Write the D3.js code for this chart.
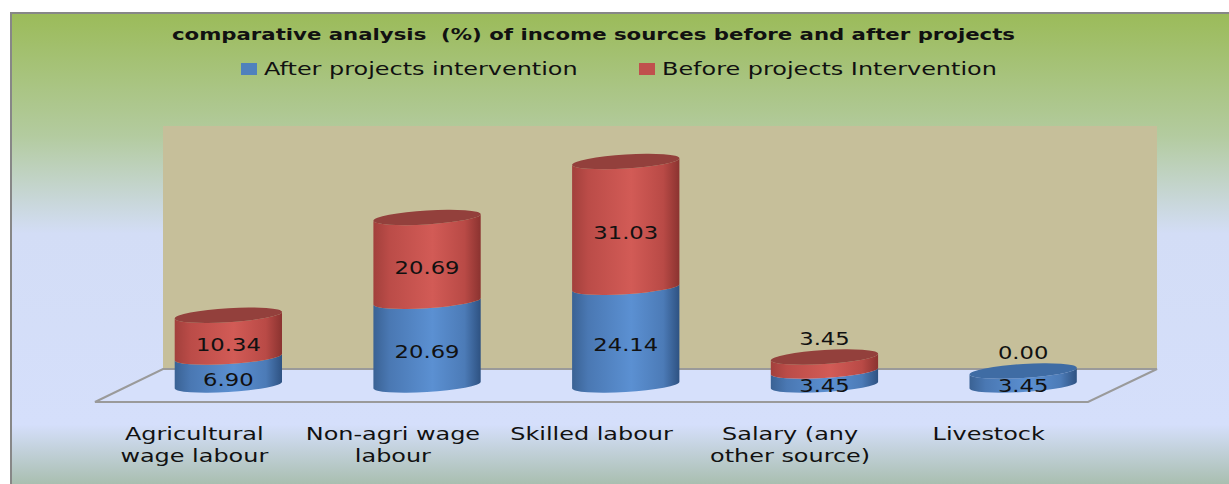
<!DOCTYPE html>
<html>
<head>
<meta charset="utf-8">
<script src="https://cdn.jsdelivr.net/npm/d3@7"></script>
<style>
  body { margin: 0; background: #fff; }
  text { font-family: "DejaVu Sans", Verdana, sans-serif; fill: #111; }
</style>
</head>
<body>
<div id="chart"></div>
<script>
"use strict";

// chart data
const categories = ["Agricultural wage labour", "Non-agri wage labour", "Skilled labour", "Salary (any other source)", "Livestock"];
const categoryLines = [["Agricultural", "wage labour"], ["Non-agri wage", "labour"], ["Skilled labour"], ["Salary (any", "other source)"], ["Livestock"]];
const afterValues = [6.90, 20.69, 24.14, 3.45, 3.45];
const beforeValues = [10.34, 20.69, 31.03, 3.45, 0.00];
const seriesNames = ["After projects intervention", "Before projects Intervention"];
const title = "comparative analysis  (%) of income sources before and after projects";

const msm = {
    width: 1229,
    height: 484,
    wallTop: 126,
    backY: 369,
    frontY: 402,
    backLeft: 163,
    backRight: 1157,
    frontLeft: 95,
    frontRight: 1088,
    baseY: 385,
    yTop: 142
}

const colors = {
    blue: ["#3a6294", "#4a78b3", "#5b90d2", "#4c7bb7", "#2e5282"],
    red: ["#a2403c", "#bb4c48", "#d25b56", "#b94a46", "#8b3330"],
    blueTop: "#3f6ca4",
    redTop: "#93403c"
}

let svg = d3.select("#chart").append("svg")
    .attr("width", msm.width)
    .attr("height", msm.height);

let defs = svg.append("defs");

// background gradient of the chart area
let bg = defs.append("linearGradient").attr("id", "bg")
    .attr("x1", 0).attr("y1", 0).attr("x2", 0).attr("y2", 1);
[[0, "#9bbb59"], [0.25, "#b3cb9f"], [0.45, "#d3ddf6"], [0.84, "#d5dffb"], [1, "#9bb498"]]
    .forEach(s => bg.append("stop").attr("offset", s[0]).attr("stop-color", s[1]));

// side shading for the cylinders
function sideGradient(id, stops) {
    let g = defs.append("linearGradient").attr("id", id)
        .attr("x1", 0).attr("y1", 0).attr("x2", 1).attr("y2", 0);
    [0, 0.15, 0.55, 0.85, 1].forEach((o, i) => g.append("stop").attr("offset", o).attr("stop-color", stops[i]));
}
sideGradient("gBlue", colors.blue);
sideGradient("gRed", colors.red);

// chart area with border
svg.append("rect")
    .attr("x", 11).attr("y", 13)
    .attr("width", 1240).attr("height", 490)
    .attr("fill", "url(#bg)")
    .attr("stroke", "#878787")
    .attr("stroke-width", 2);

// back wall
svg.append("rect")
    .attr("x", msm.backLeft).attr("y", msm.wallTop)
    .attr("width", msm.backRight - msm.backLeft)
    .attr("height", msm.backY - msm.wallTop)
    .attr("fill", "#c6bf9a");

// floor
svg.append("polygon")
    .attr("points", [[msm.backLeft, msm.backY], [msm.backRight, msm.backY], [msm.frontRight, msm.frontY], [msm.frontLeft, msm.frontY]].join(" "))
    .attr("fill", "#d6e0fb")
    .attr("stroke", "#9a9a9a")
    .attr("stroke-width", 2);

// scales: middle of floor depth for bars, front edge for labels
let xMid = d3.scaleBand().domain(categories)
    .range([(msm.backLeft + msm.frontLeft) / 2, (msm.backRight + msm.frontRight) / 2]);
let xFront = d3.scaleBand().domain(categories)
    .range([msm.frontLeft, msm.frontRight]);
let yScale = d3.scaleLinear().domain([0, 60]).range([msm.baseY, msm.yTop]);

let rx = xMid.bandwidth() * 0.27;
let ry = 7;

let rows = categories.map((c, i) => ({ cat: c, after: afterValues[i], before: beforeValues[i] }));
let stack = d3.stack().keys(["after", "before"])(rows);

function sidePath(cx, y0, y1) {
    return "M" + (cx - rx) + "," + y0 +
        " A" + rx + "," + ry + " 0 0 0 " + (cx + rx) + "," + y0 +
        " L" + (cx + rx) + "," + y1 +
        " A" + rx + "," + ry + " 0 0 1 " + (cx - rx) + "," + y1 + " Z";
}

let bars = svg.selectAll(".bar")
    .data(rows)
    .enter()
    .append("g")
    .attr("class", "bar")
    .attr("transform", d => {
        let cx = xMid(d.cat) + xMid.bandwidth() / 2;
        return "translate(" + cx + ",0) skewY(-3.5) translate(" + (-cx) + ",0)";
    });

bars.each(function (d, i) {
    let g = d3.select(this);
    let cx = xMid(d.cat) + xMid.bandwidth() / 2;
    let topColor = colors.blueTop;
    stack.forEach((layer, k) => {
        let seg = layer[i];
        if (seg[1] - seg[0] <= 0) return;
        g.append("path")
            .attr("d", sidePath(cx, yScale(seg[0]), yScale(seg[1])))
            .attr("fill", k == 0 ? "url(#gBlue)" : "url(#gRed)");
        topColor = k == 0 ? colors.blueTop : colors.redTop;
    });
    let total = stack[1][i][1];
    g.append("ellipse")
        .attr("cx", cx)
        .attr("cy", yScale(total))
        .attr("rx", rx)
        .attr("ry", ry)
        .attr("fill", topColor);
});

// value labels
stack.forEach((layer, k) => {
    svg.selectAll(".lbl" + k)
        .data(layer)
        .enter()
        .append("text")
        .attr("class", "lbl" + k)
        .attr("transform", d => {
            let cx = xMid(d.data.cat) + xMid.bandwidth() / 2;
            let h = yScale(d[0]) - yScale(d[1]);
            let y = (k == 1 && h < 20) ? yScale(d[1]) - 19 : (yScale(d[0]) + yScale(d[1])) / 2 + 8;
            return "translate(" + cx + "," + y + ") scale(1.26,1)";
        })
        .attr("text-anchor", "middle")
        .attr("dy", "0.36em")
        .style("font-size", "18px")
        .text((d, i) => (k == 0 ? afterValues[i] : beforeValues[i]).toFixed(2));
});

// category labels along the front edge of the floor
categories.forEach((c, i) => {
    categoryLines[i].forEach((line, j) => {
        svg.append("text")
            .attr("transform", "translate(" + (xFront(c) + xFront.bandwidth() / 2) + "," + (440 + j * 22) + ") scale(1.33,1)")
            .attr("text-anchor", "middle")
            .style("font-size", "18px")
            .text(line);
    });
});

// title
svg.append("text")
    .attr("x", 172)
    .attr("y", 40)
    .attr("textLength", 843)
    .attr("lengthAdjust", "spacingAndGlyphs")
    .style("font-size", "16px")
    .style("font-weight", "bold")
    .style("white-space", "pre")
    .text(title);

// legend
let legendX = [241, 639];
seriesNames.forEach((name, i) => {
    svg.append("rect")
        .attr("x", legendX[i]).attr("y", 63)
        .attr("width", 16).attr("height", 12)
        .attr("fill", i == 0 ? "#4f81bd" : "#c0504d");
    svg.append("text")
        .attr("transform", "translate(" + (legendX[i] + 23) + ",75) scale(1.33,1)")
        .style("font-size", "18px")
        .text(name);
});
</script>
</body>
</html>
